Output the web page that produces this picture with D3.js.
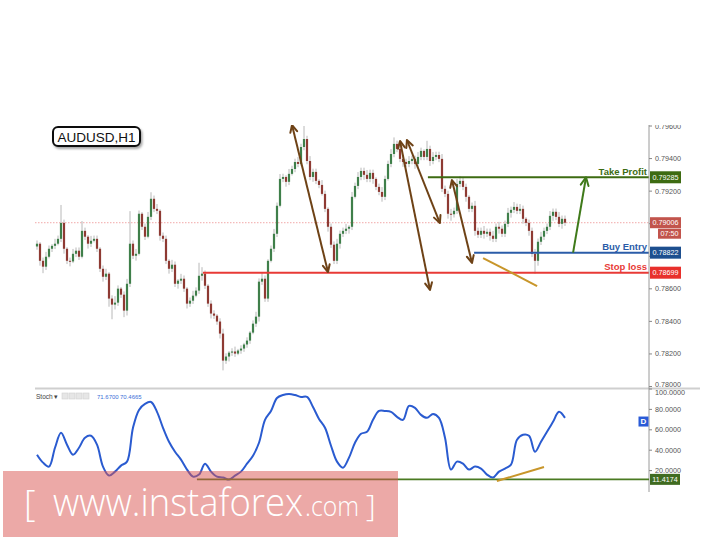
<!DOCTYPE html>
<html><head><meta charset="utf-8">
<script src="https://cdn.jsdelivr.net/npm/d3@7"></script>
<style>body{margin:0;background:#fff}svg{display:block}</style>
</head><body>
<script>
// ---------- DATA ----------
const symbol = "AUDUSD,H1";
const firstOpen = 0.78860;
const closes = [
0.78877,0.78772,0.78736,0.78797,0.78846,0.78864,0.78877,0.78907,0.79005,0.78846,
0.78772,0.78768,0.78815,0.78834,0.78797,0.78956,0.78920,0.78877,0.78895,0.78907,
0.78846,0.78723,0.78674,0.78693,0.78540,0.78503,0.78515,0.78601,0.78564,0.78466,
0.78631,0.78877,0.78803,0.78815,0.79061,0.78981,0.78920,0.79042,0.79153,0.79091,
0.79079,0.78926,0.78907,0.78772,0.78723,0.78748,0.78631,0.78650,0.78662,0.78601,
0.78509,0.78527,0.78558,0.78589,0.78680,0.78693,0.78619,0.78509,0.78448,0.78435,
0.78399,0.78325,0.78159,0.78184,0.78208,0.78215,0.78202,0.78221,0.78233,0.78258,
0.78282,0.78331,0.78386,0.78429,0.78644,0.78662,0.78540,0.78772,0.78846,0.78938,
0.79110,0.79275,0.79287,0.79257,0.79306,0.79336,0.79379,0.79367,0.79471,0.79520,
0.79385,0.79287,0.79318,0.79263,0.79238,0.79183,0.79091,0.78981,0.78871,0.78772,
0.78877,0.78938,0.78956,0.78969,0.78981,0.79165,0.79232,0.79287,0.79324,0.79300,
0.79275,0.79312,0.79275,0.79226,0.79195,0.79165,0.79275,0.79367,0.79428,0.79490,
0.79459,0.79398,0.79379,0.79367,0.79385,0.79398,0.79367,0.79410,0.79447,0.79410,
0.79459,0.79385,0.79410,0.79422,0.79398,0.79214,0.79183,0.79061,0.79058,0.79079,
0.79244,0.79263,0.79226,0.79165,0.79091,0.79110,0.78956,0.78932,0.78956,0.78938,
0.78950,0.78926,0.78907,0.78981,0.78969,0.78938,0.78999,0.79067,0.79085,0.79103,
0.79079,0.79091,0.79030,0.79005,0.78956,0.78815,0.78772,0.78889,0.78920,0.78956,
0.78981,0.79048,0.79073,0.79042,0.78999,0.79030,0.79006
];
// upper / lower wick lengths in pips (0.0001)
const wickHi = [
2,1,2,3,2,1,3,2,11,2, 1,2,3,2,2,6,2,1,3,2, 2,1,2,3,1,2,4,2,1,2,
3,20,2,3,2,1,2,3,4,2, 3,1,2,2,1,3,2,1,3,2, 1,2,3,2,8,4,2,1,2,2,
1,2,3,2,1,2,3,1,2,1, 2,1,2,3,2,4,2,1,2,3, 2,3,2,1,3,2,2,3,2,8,
2,3,2,2,1,3,2,1,2,2, 3,2,2,3,1,3,2,3,2,2, 3,2,2,1,2,3,2,2,3,4,
2,3,2,2,3,2,2,3,2,1, 5,2,3,2,2,3,2,2,3,2, 3,3,2,2,1,2,3,2,2,3,
2,2,3,2,3,2,2,3,2,3, 2,3,2,1,2,2,3,2,3,2, 2,3,2,2,3,2,2
];
const wickLo = [
2,3,4,2,1,2,2,1,2,3, 2,3,1,2,2,1,2,3,2,1, 2,2,3,2,5,9,3,2,2,4,
3,2,2,3,1,2,2,1,2,2, 2,3,2,2,3,2,2,3,2,2, 3,2,2,1,2,3,2,2,3,2,
2,3,6,2,3,2,2,1,2,2, 2,2,1,2,3,2,2,2,1,2, 2,1,2,3,2,1,2,2,1,2,
2,2,3,2,2,1,2,3,2,2, 2,3,2,2,3,2,1,2,2,3, 2,2,3,2,2,3,2,1,2,2,
2,2,3,2,2,2,3,2,2,2, 2,3,2,2,2,2,2,3,4,2, 2,2,2,3,2,2,3,2,2,3,
2,3,2,2,3,2,2,2,3,2, 2,2,3,2,3,2,8,3,2,2, 2,2,3,2,2,3,2
];
// stochastic %K, one value every 2 candles
const stoch = [
35.6,27.8,23.9,42.4,57.1,45.4,35.6,42.4,52.2,54.1,
45.4,23.9,15.1,19.0,24.9,28.8,62.0,79.5,85.4,87.3,
77.6,62.0,48.3,38.5,30.7,21.0,14.1,16.1,26.8,19.0,
14.1,13.2,11.2,15.1,19.0,26.8,34.6,47.3,69.8,78.5,
91.2,94.1,95.1,94.1,92.2,92.2,82.4,70.7,62.0,44.4,
28.8,22.9,32.7,47.3,56.1,58.0,69.8,78.5,78.5,77.6,
72.7,69.8,83.4,81.5,74.6,71.7,75.6,71.7,52.2,21.0,
28.8,26.8,21.0,23.9,22.0,16.1,13.2,19.0,22.0,25.9,
50.2,55.1,54.1,38.5,48.3,58.0,67.8,77.6,71.7
];
const stochHeader = ["71.6700", "70.4665"];
const priceTicks = [0.780,0.782,0.784,0.786,0.788,0.790,0.792,0.794,0.796];
const stochTicks = [20,40,60,80,100];
const currentPrice = 0.79006;
const timerLabel = "07:50";
const levelNames = ["Take Profit","Buy Entry","Stop loss"];
const levelPrices = [0.79285, 0.78822, 0.78699];
const levelStart = [130.3, 145.7, 55.3];        // candle index where the line starts
const stochLevel = 11.4174, stochLevelStart = 53.3;
// annotation arrows: [index1, price1, index2, price2]
const brownArrows = [
  [85, 0.79606, 97, 0.78703],
  [121, 0.79508, 131, 0.78593],
  [123.3, 0.79514, 134.3, 0.79004],
  [138.3, 0.79268, 145, 0.78759]
];
const greenArrow = [178.7, 0.78822, 183, 0.79285];
const goldLinePrice = [148.7, 0.78789, 166.7, 0.78617];
const goldLineStoch = [153.3, 9.8, 169, 23.5];
const watermark = ["[", "www.instaforex", ".com", "]"];

// ---------- STYLE ----------
const W = 720, H = 540;
const axisX = 649;
const upCol = "#3f7f4a", dnCol = "#8e3a33";
const levelCols = ["#3d6b12", "#2b5ca8", "#e83a36"];
const badgeCols = ["#3d6b12", "#1d4f8f", "#e8302c"];
const brown = "#6e4216";
const axisFont = 7.2;

const svg = d3.select("body").append("svg").attr("width", W).attr("height", H)
  .style("font-family", "Arial, 'Liberation Sans', sans-serif");

const x = d3.scaleLinear().domain([0, closes.length - 1]).range([37, 565]);
const y = d3.scaleLinear().domain([0.780, 0.796]).range([386.5, 126]);
const ys = d3.scaleLinear().domain([0, 100]).range([491, 389]);

const defs = svg.append("defs");
defs.append("clipPath").attr("id", "clipTop").append("rect")
  .attr("x", 0).attr("y", 125).attr("width", W).attr("height", H - 125);
const sh = defs.append("filter").attr("id", "shadow").attr("x", "-20%").attr("y", "-30%").attr("width", "150%").attr("height", "180%");
sh.append("feDropShadow").attr("dx", 1.5).attr("dy", 2).attr("stdDeviation", 1.2).attr("flood-color", "#000").attr("flood-opacity", 0.35);

const g = svg.append("g").attr("clip-path", "url(#clipTop)");

// separator between panels
g.append("line").attr("x1", 35).attr("x2", 700).attr("y1", 388.5).attr("y2", 388.5)
  .attr("stroke", "#cfcfcf").attr("stroke-width", 2);

// current price dotted line
g.append("line").attr("x1", 35).attr("x2", axisX).attr("y1", y(currentPrice)).attr("y2", y(currentPrice))
  .attr("stroke", "#f1a9a9").attr("stroke-width", 1).attr("stroke-dasharray", "1.5,1.5");

// candles
const candles = closes.map((c, i) => {
  const o = i === 0 ? firstOpen : closes[i - 1];
  return {i, o, c, h: Math.max(o, c) + wickHi[i] * 1e-4, l: Math.min(o, c) - wickLo[i] * 1e-4};
});
g.append("g").selectAll("line").data(candles).join("line")
  .attr("x1", d => x(d.i)).attr("x2", d => x(d.i))
  .attr("y1", d => y(d.h)).attr("y2", d => y(d.l))
  .attr("stroke", "#b8b8b8").attr("stroke-width", 1);
g.append("g").selectAll("rect").data(candles).join("rect")
  .attr("x", d => x(d.i) - 1.1).attr("width", 2.2)
  .attr("y", d => y(Math.max(d.o, d.c)))
  .attr("height", d => Math.max(1, Math.abs(y(d.o) - y(d.c))))
  .attr("fill", d => d.c >= d.o ? upCol : dnCol);

// levels
levelNames.forEach((name, k) => {
  const yy = y(levelPrices[k]);
  g.append("line").attr("x1", x(levelStart[k])).attr("x2", axisX).attr("y1", yy).attr("y2", yy)
    .attr("stroke", levelCols[k]).attr("stroke-width", 2);
  g.append("text").attr("x", 647).attr("y", yy - 2.5).attr("text-anchor", "end")
    .attr("font-size", 9.5).attr("font-weight", "bold").attr("fill", levelCols[k]).text(name);
});

// arrows
function arrowHead(sel, tx, ty, fx, fy, col, len) {
  const a = Math.atan2(ty - fy, tx - fx), s = 0.45;
  const p1 = [tx - len * Math.cos(a - s), ty - len * Math.sin(a - s)];
  const p2 = [tx - len * Math.cos(a + s), ty - len * Math.sin(a + s)];
  sel.append("polyline").attr("points", `${p1} ${tx},${ty} ${p2}`)
    .attr("fill", "none").attr("stroke", col).attr("stroke-width", 2).attr("stroke-linecap", "round").attr("stroke-linejoin", "round");
}
brownArrows.forEach(a => {
  const x1 = x(a[0]), y1 = y(a[1]), x2 = x(a[2]), y2 = y(a[3]);
  g.append("line").attr("x1", x1).attr("y1", y1).attr("x2", x2).attr("y2", y2)
    .attr("stroke", brown).attr("stroke-width", 2);
  arrowHead(g, x2, y2, x1, y1, brown, 8);
  arrowHead(g, x1, y1, x2, y2, brown, 8);
});
{
  const a = greenArrow;
  const x1 = x(a[0]), y1 = y(a[1]), x2 = x(a[2]), y2 = y(a[3]);
  g.append("line").attr("x1", x1).attr("y1", y1).attr("x2", x2).attr("y2", y2)
    .attr("stroke", "#3f7a1a").attr("stroke-width", 2);
  arrowHead(g, x2, y2, x1, y1, "#3f7a1a", 9);
}
g.append("line").attr("x1", x(goldLinePrice[0])).attr("y1", y(goldLinePrice[1]))
  .attr("x2", x(goldLinePrice[2])).attr("y2", y(goldLinePrice[3]))
  .attr("stroke", "#c8962a").attr("stroke-width", 2);

// price axis
g.append("line").attr("x1", axisX).attr("x2", axisX).attr("y1", 123).attr("y2", 492)
  .attr("stroke", "#9a9a9a").attr("stroke-width", 1);
const badgePrices = levelPrices.concat([currentPrice]);
const pa = g.append("g");
priceTicks.forEach(t => {
  pa.append("line").attr("x1", axisX).attr("x2", axisX + 3).attr("y1", y(t)).attr("y2", y(t)).attr("stroke", "#888");
  // labels hidden behind a price badge are not drawn (they are covered in the reference)
  if (badgePrices.some(p => Math.abs(y(p) - y(t)) < 6)) return;
  pa.append("text").attr("x", 655).attr("y", y(t)).attr("dy", t === 0.780 ? "0.05em" : "0.35em")
    .attr("font-size", axisFont).attr("fill", "#555")
    .text(d3.format(".5f")(t));
});

// badges
function badge(x0, yc, w, h, col, txt) {
  g.append("rect").attr("x", x0).attr("y", yc - h / 2).attr("width", w).attr("height", h).attr("fill", col);
  g.append("text").attr("x", x0 + w / 2).attr("y", yc).attr("dy", "0.35em").attr("text-anchor", "middle")
    .attr("font-size", axisFont).attr("fill", "#fff").text(txt);
}
levelPrices.forEach((p, k) => badge(650, y(p), 31, 12, badgeCols[k], d3.format(".5f")(p)));
badge(650, y(currentPrice), 31, 11, "#c2544c", d3.format(".5f")(currentPrice));
badge(658, y(currentPrice) + 11, 23, 10, "#c2544c", timerLabel);

// ---------- STOCH PANEL ----------
g.append("path").datum(stoch)
  .attr("d", d3.line().x((d, j) => x(2 * j)).y(d => ys(d)).curve(d3.curveCatmullRom))
  .attr("fill", "none").attr("stroke", "#2a5bd0").attr("stroke-width", 2);
g.append("line").attr("x1", x(stochLevelStart)).attr("x2", axisX).attr("y1", ys(stochLevel)).attr("y2", ys(stochLevel))
  .attr("stroke", "#4a7a22").attr("stroke-width", 1.6);
g.append("line").attr("x1", x(goldLineStoch[0])).attr("y1", ys(goldLineStoch[1]))
  .attr("x2", x(goldLineStoch[2])).attr("y2", ys(goldLineStoch[3]))
  .attr("stroke", "#c8962a").attr("stroke-width", 2);
stochTicks.forEach(t => {
  g.append("line").attr("x1", axisX).attr("x2", axisX + 3).attr("y1", ys(t)).attr("y2", ys(t)).attr("stroke", "#888");
  g.append("text").attr("x", 655).attr("y", ys(t)).attr("dy", t === 100 ? "0.85em" : "0.35em").attr("font-size", axisFont).attr("fill", "#555")
    .text(d3.format(".4f")(t));
});
badge(650, ys(stochLevel), 30, 11, "#3f6b20", d3.format(".4f")(stochLevel));
// "D" badge
g.append("rect").attr("x", 638.5).attr("y", ys(73)).attr("width", 10).attr("height", 10).attr("fill", "#2a5bd7");
g.append("text").attr("x", 643.5).attr("y", ys(73) + 5).attr("dy", "0.35em").attr("text-anchor", "middle")
  .attr("font-size", 8).attr("font-weight", "bold").attr("fill", "#fff").text("D");
// header
g.append("text").attr("x", 36).attr("y", 398.5).attr("font-size", 6.5).attr("fill", "#444").text("Stoch ▾");
[62, 69, 76, 83].forEach(xx => g.append("rect").attr("x", xx).attr("y", 393).attr("width", 6).attr("height", 6)
  .attr("fill", "#e6e6e6").attr("stroke", "#cfcfcf").attr("stroke-width", 0.6));
g.append("text").attr("x", 97).attr("y", 398.5).attr("font-size", 6).attr("fill", "#3a6fd8").text(stochHeader[0]);
g.append("text").attr("x", 120).attr("y", 398.5).attr("font-size", 6).attr("fill", "#3a6fd8").text(stochHeader[1]);

// ---------- SYMBOL LABEL ----------
svg.append("rect").attr("x", 53).attr("y", 127).attr("width", 87).attr("height", 19).attr("rx", 5)
  .attr("fill", "#fff").attr("stroke", "#111").attr("stroke-width", 2).attr("filter", "url(#shadow)");
svg.append("text").attr("x", 96.5).attr("y", 141.5).attr("text-anchor", "middle")
  .attr("font-size", 13.5).attr("fill", "#111").text(symbol);

// ---------- WATERMARK ----------
svg.append("rect").attr("x", 3).attr("y", 471).attr("width", 395).attr("height", 66)
  .attr("fill", "#d9534f").attr("opacity", 0.5);
const wmText = svg.append("text").attr("fill", "#fff").attr("y", 516)
  .style("font-family", "'Open Sans', 'Noto Sans', sans-serif").attr("font-weight", 300);
wmText.append("tspan").attr("x", 24).attr("font-size", 36).text(watermark[0]);
wmText.append("tspan").attr("x", 53).attr("font-size", 39).attr("textLength", 250).attr("lengthAdjust", "spacingAndGlyphs").text(watermark[1]);
wmText.append("tspan").attr("x", 305).attr("font-size", 28).attr("textLength", 54).attr("lengthAdjust", "spacingAndGlyphs").text(watermark[2]);
wmText.append("tspan").attr("x", 366).attr("font-size", 30).text(watermark[3]);
</script>
</body></html>
